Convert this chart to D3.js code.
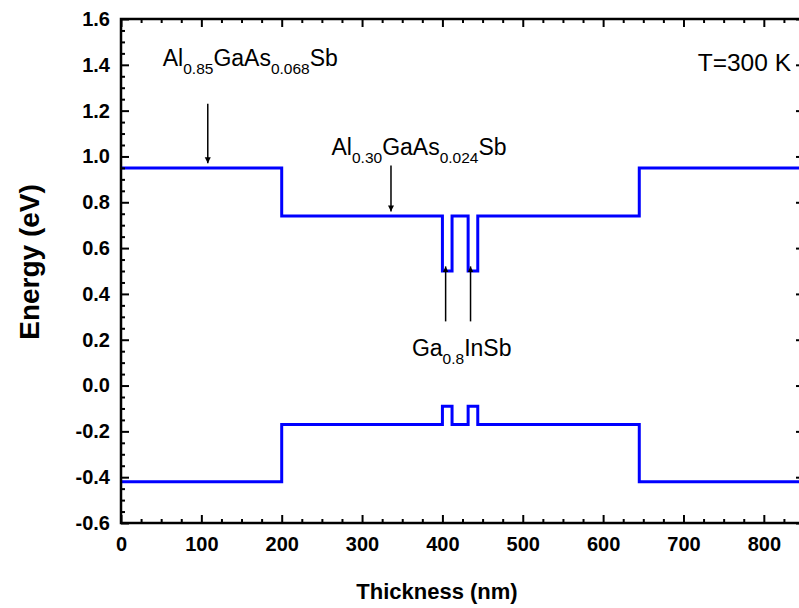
<!DOCTYPE html>
<html><head><meta charset="utf-8">
<script src="https://cdn.jsdelivr.net/npm/d3@7"></script>
<style>body{margin:0;background:#fff}svg{display:block}text{font-family:Arial,"Liberation Sans",sans-serif}</style>
</head><body><svg id="c" width="799" height="608"></svg>
<script>
// Layer boundaries (nm) and band-edge energies (eV)
const boundaries = [0, 200, 400, 412, 432, 444, 645, 850];
const conductionBand = [0.95, 0.74, 0.50, 0.74, 0.50, 0.74, 0.95];
const valenceBand = [-0.42, -0.17, -0.09, -0.17, -0.09, -0.17, -0.42];
const xTicks = [0, 100, 200, 300, 400, 500, 600, 700, 800];
const yTicks = [-0.6, -0.4, -0.2, 0.0, 0.2, 0.4, 0.6, 0.8, 1.0, 1.2, 1.4, 1.6];
const arrowsDown = [{x: 108, y0: 1.23, y1: 0.97}, {x: 336, y0: 0.96, y1: 0.76}];
const arrowsUp = [{x: 404, y0: 0.28, y1: 0.52}, {x: 435, y0: 0.28, y1: 0.52}];

const svg = d3.select("#c");
const m = {l: 121, r: 804, t: 19, b: 523};
const x = d3.scaleLinear().domain([0, 850]).range([m.l, m.r]);
const y = d3.scaleLinear().domain([-0.6, 1.6]).range([m.b, m.t]);

svg.append("defs").append("marker").attr("id","ah").attr("viewBox","0 0 10 10")
  .attr("refX",10).attr("refY",5).attr("markerWidth",6).attr("markerHeight",12)
  .attr("markerUnits","userSpaceOnUse").attr("orient","auto")
  .append("path").attr("d","M0,0 L10,5 L0,10 Z").attr("fill","#000");

function pts(vals){ const p = vals.map((v,i)=>[boundaries[i], v]); p.push([boundaries[boundaries.length-1], vals[vals.length-1]]); return p; }
const line = d3.line().x(d=>x(d[0])).y(d=>y(d[1])).curve(d3.curveStepAfter);
[conductionBand, valenceBand].forEach(b=>{
  svg.append("path").attr("d", line(pts(b))).attr("fill","none").attr("stroke","#0000ff").attr("stroke-width",3).attr("stroke-linejoin","miter");
});

const minorX = d3.range(0, 851, 25).filter(v=>v%100!==0);
const minorY = d3.range(0, 45).map(i=>+(-0.6+i*0.05).toFixed(2)).filter(v=>Math.abs(Math.round(v*100))%20!==0);
const axStyle = g=>{g.select(".domain").remove(); g.selectAll("line").attr("stroke","#000").attr("stroke-width",2);};

const gBottom = svg.append("g").attr("transform",`translate(0,${m.b})`)
  .call(d3.axisBottom(x).tickValues(xTicks).tickSizeInner(-8).tickSizeOuter(0).tickPadding(14).tickFormat(d3.format("d")));
gBottom.call(axStyle);
gBottom.selectAll("text").attr("font-size",20).attr("font-weight","bold").attr("fill","#000");
svg.append("g").attr("transform",`translate(0,${m.b})`).call(d3.axisBottom(x).tickValues(minorX).tickSizeInner(-4).tickSizeOuter(0).tickFormat("")).call(axStyle);

svg.append("g").attr("transform",`translate(0,${m.t})`)
  .call(d3.axisTop(x).tickValues(xTicks).tickSizeInner(-8).tickSizeOuter(0).tickFormat("")).call(axStyle);
svg.append("g").attr("transform",`translate(0,${m.t})`).call(d3.axisTop(x).tickValues(minorX).tickSizeInner(-4).tickSizeOuter(0).tickFormat("")).call(axStyle);

const gLeft = svg.append("g").attr("transform",`translate(${m.l},0)`)
  .call(d3.axisLeft(y).tickValues(yTicks).tickSizeInner(-8).tickSizeOuter(0).tickPadding(11).tickFormat(d3.format(".1f")));
gLeft.call(axStyle);
gLeft.selectAll("text").attr("font-size",20).attr("font-weight","bold").attr("fill","#000").text(d=>d3.format(".1f")(d).replace("\u2212","-"));
svg.append("g").attr("transform",`translate(${m.l},0)`).call(d3.axisLeft(y).tickValues(minorY).tickSizeInner(-4).tickSizeOuter(0).tickFormat("")).call(axStyle);

svg.append("g").attr("transform",`translate(${m.r},0)`).call(d3.axisRight(y).tickValues(yTicks).tickSizeInner(-8).tickSizeOuter(0).tickFormat("")).call(axStyle);
svg.append("g").attr("transform",`translate(${m.r},0)`).call(d3.axisRight(y).tickValues(minorY).tickSizeInner(-4).tickSizeOuter(0).tickFormat("")).call(axStyle);

svg.append("rect").attr("x",m.l).attr("y",m.t).attr("width",m.r-m.l).attr("height",m.b-m.t)
  .attr("fill","none").attr("stroke","#000").attr("stroke-width",2.5);

svg.append("text").attr("x",437).attr("y",599).attr("text-anchor","middle")
  .attr("font-size",22).attr("font-weight","bold").text("Thickness (nm)");
svg.append("text").attr("transform",`translate(39,262) rotate(-90)`).attr("text-anchor","middle")
  .attr("font-size",28).attr("font-weight","bold").text("Energy (eV)");

arrowsDown.concat(arrowsUp).forEach(a=>{
  svg.append("line").attr("x1",x(a.x)).attr("x2",x(a.x)).attr("y1",y(a.y0)).attr("y2",y(a.y1))
    .attr("stroke","#000").attr("stroke-width",1.5).attr("marker-end","url(#ah)");
});

function label(px, py, parts){
  const t = svg.append("text").attr("x",px).attr("y",py).attr("font-size",23).attr("fill","#000");
  parts.forEach(p=>{
    const s = t.append("tspan").text(p[0]);
    if(p[1]) s.attr("font-size",15.5).attr("dy",8); else s.attr("dy", p[2]||0);
  });
  return t;
}
label(x(52), 66, [["Al"],["0.85",1],["GaAs",0,-8],["0.068",1],["Sb",0,-8]]);
label(x(262), 155, [["Al"],["0.30",1],["GaAs",0,-8],["0.024",1],["Sb",0,-8]]);
label(x(362), 356, [["Ga"],["0.8",1],["InSb",0,-8]]);
svg.append("text").attr("x",791).attr("y",71).attr("text-anchor","end").attr("font-size",24.5).text("T=300 K");
</script></body></html>
